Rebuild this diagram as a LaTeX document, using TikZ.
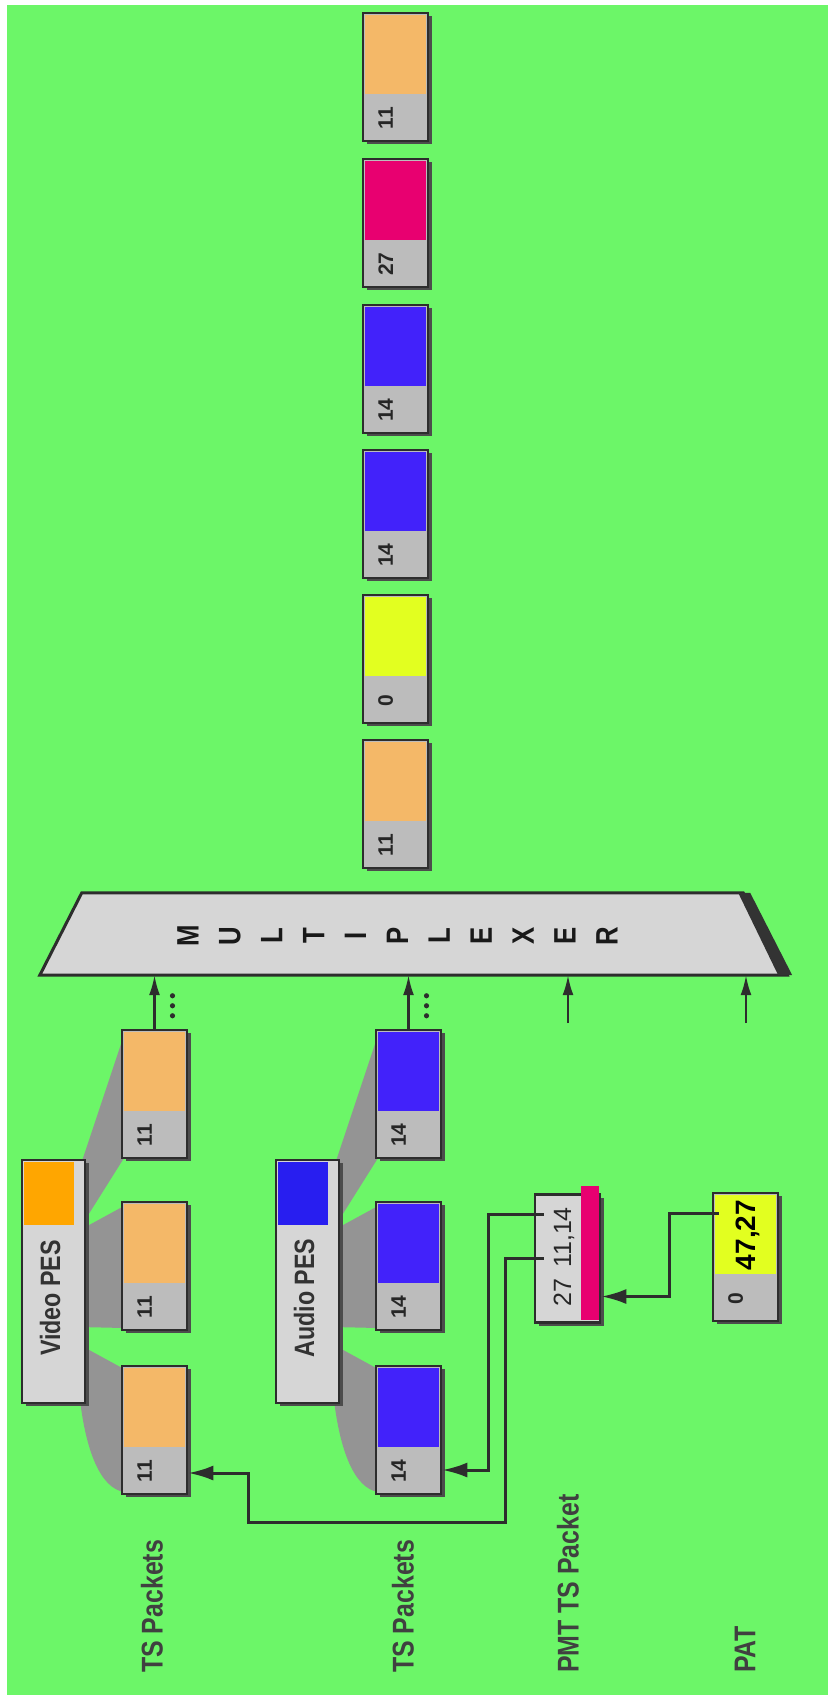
\documentclass[tikz,border=0pt]{standalone}
\usepackage{fontspec}
\newfontfamily\condsans[FakeStretch=0.83]{Liberation Sans}
\newfontfamily\pidsans{Liberation Sans}
\usetikzlibrary{calc,arrows.meta,shadows}

\definecolor{bggreen}{RGB}{108,246,104}
\definecolor{vidpay}{RGB}{244,184,104}
\definecolor{vidpes}{RGB}{255,166,0}
\definecolor{audpay}{RGB}{66,34,250}
\definecolor{audpes}{RGB}{40,30,240}
\definecolor{pmtcol}{RGB}{232,0,112}
\definecolor{patcol}{RGB}{226,255,32}
\definecolor{hdrgray}{RGB}{188,188,188}
\definecolor{boxgray}{RGB}{214,214,214}
\definecolor{edge}{RGB}{45,45,45}

% one TS packet: name, left x, top y, payload colour, PID
\newcommand{\tspkt}[5]{%
  \node[pkt] (#1) at (#2+32.5,#3+64) {};
  \fill[#4] ([shift={(3pt,-3pt)}]#1.north west) rectangle ([shift={(-3pt,48pt)}]#1.south east);
  \node[pid] (#1pid) at ([shift={(24pt,24pt)}]#1.south west) {#5};
}

\begin{document}
\begin{tikzpicture}[x=1pt, y=-1pt,
 pkt/.style={draw=edge, line width=2.5pt, fill=hdrgray, minimum width=65pt,
   minimum height=128pt, inner sep=0pt,
   drop shadow={shadow xshift=4pt, shadow yshift=-3pt, fill=black!70, opacity=1}},
 pesbox/.style={pkt, fill=boxgray, minimum width=63pt, minimum height=243pt},
 pid/.style={rotate=90, font=\pidsans\bfseries\fontsize{21}{21}\selectfont, text=black!85, inner sep=0pt},
 peslbl/.style={rotate=90, font=\condsans\bfseries\fontsize{28}{28}\selectfont, text=black!80, inner sep=0pt},
 sidelbl/.style={rotate=90, anchor=west, font=\condsans\bfseries\fontsize{30}{30}\selectfont, text=black!75, inner sep=0pt},
 muxlbl/.style={rotate=90, font=\condsans\bfseries\fontsize{31}{31}\selectfont, text=black!90, inner sep=0pt},
 funnel/.style={fill=black!42},
 muxarr/.style={draw=edge, line width=2.2pt, -{Latex[length=20pt,width=11pt]}},
 pidlink/.style={draw=edge, line width=3pt, -{Latex[length=25pt,width=15pt]}}
]
\useasboundingbox (0,0) rectangle (828,1698);
\fill[white] (0,0) rectangle (828,1698);
\fill[bggreen] (7,5) rectangle (828,1695);

% PES boxes split into TS packets
\foreach \g/\xo/\pesc/\pay/\pid/\txt in {v/0/vidpes/vidpay/11/Video PES, a/254/audpes/audpay/14/Audio PES}{
  \begin{scope}[xshift=\xo pt]
    \fill[funnel] (80,1167) -- (124,1035) -- (124,1158) -- (80,1228) -- cycle;
    \fill[funnel] (80,1230) -- (124,1206) -- (124,1328) -- (80,1327) -- cycle;
    \fill[funnel] (80,1345) -- (124,1369) -- (124,1492) .. controls (100,1488) and (86,1450) .. (80,1400) -- cycle;
    \node[pesbox] (\g pes) at (53.5,1281.5) {};
    \fill[\pesc] ([shift={(3pt,-3pt)}]\g pes.north west) rectangle ([shift={(-12pt,-66pt)}]\g pes.north east);
    \node[peslbl] (\g lbl) at (50,1298) {\txt};
    \tspkt{\g1}{122}{1366}{\pay}{\pid}
    \tspkt{\g2}{122}{1202}{\pay}{\pid}
    \tspkt{\g3}{122}{1030}{\pay}{\pid}
    \foreach \d in {13,23,33} \fill[edge] ([shift={(18pt,\d pt)}]\g3.north) circle (2.6pt);
  \end{scope}
}

% Multiplexer
\node[minimum width=747pt, minimum height=82pt, inner sep=0pt] (mux) at (413.5,934) {};
\draw[edge, line width=3pt, fill=boxgray, line join=miter]
  ([xshift=42pt]mux.north west) -- ([xshift=-44pt]mux.north east)
  -- (mux.south east) -- (mux.south west) -- cycle;
\fill[black!80] ([xshift=-49pt]mux.north east) -- ([xshift=-37pt]mux.north east)
  -- ([xshift=5pt]mux.south east) -- ([xshift=-9pt]mux.south east) -- cycle;
\foreach \ch [count=\i] in {M,U,L,T,I,P,L,E,X,E,R}
  \node[muxlbl] (mx\i) at (146+41.9*\i,936) {\ch};

% inputs
\coordinate (in3) at (568,1023);
\coordinate (in4) at (746,1023);
\draw[muxarr] (v3.north) -- (v3.north |- mux.south);
\draw[muxarr] (a3.north) -- (a3.north |- mux.south);
\draw[muxarr] (in3) -- (in3 |- mux.south);
\draw[muxarr] (in4) -- (in4 |- mux.south);

% Transport stream out
\foreach \i/\top/\col/\p in {1/13/vidpay/11, 2/159/pmtcol/27, 3/305/audpay/14,
  4/450/audpay/14, 5/595/patcol/0, 6/740/vidpay/11}{
  \tspkt{out\i}{363}{\top}{\col}{\p}
}

% PMT and PAT
\node[pkt, fill=boxgray] (pmt) at (567.5,1258.5) {};
\fill[pmtcol] ([shift={(-20pt,7pt)}]pmt.north east) rectangle ([shift={(-2pt,4pt)}]pmt.south east);
\node[pid, font=\pidsans\fontsize{25}{25}\selectfont] (pmtpid) at (564,1257) {27\hspace{0.45em}11,14};

\tspkt{pat}{713}{1193}{patcol}{0}
\node[pid, font=\pidsans\bfseries\fontsize{28}{28}\selectfont, text=black] (patval) at (748,1235) {47,27};

\coordinate (v1in) at ([yshift=-43pt]v1.east);
\coordinate (a1in) at ([yshift=-40pt]a1.east);
\coordinate (pmtin) at ([yshift=-38pt]pmt.east);
\draw[pidlink] ([xshift=10pt]pmt.west) -| (505,1522) -| ([xshift=60pt]v1in) -- (v1in);
\draw[pidlink] ([shift={(10pt,44pt)}]pmt.west) -| ([xshift=46pt]a1in) -- (a1in);
\draw[pidlink] ([shift={(7pt,44pt)}]pat.west) -| ([xshift=68pt]pmtin) -- (pmtin);

% labels
\node[sidelbl] (tsv) at (152,1673) {TS Packets};
\node[sidelbl] (tsa) at (403,1673) {TS Packets};
\node[sidelbl] (pmtlbl) at (568,1673) {PMT TS Packet};
\node[sidelbl] (patlbl) at (745,1673) {PAT};
\end{tikzpicture}
\end{document}
